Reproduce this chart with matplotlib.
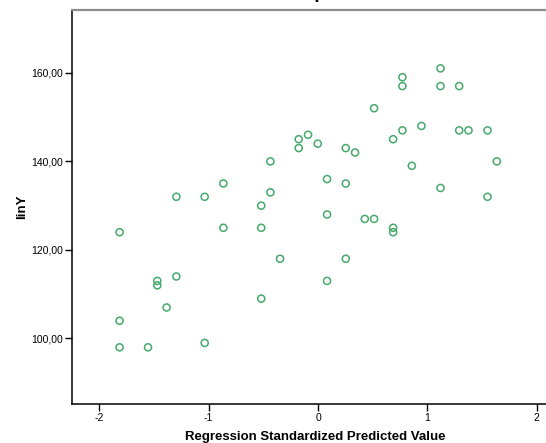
import numpy as np
import matplotlib
matplotlib.use('Agg')
import matplotlib.pyplot as plt

plt.rcParams['font.family'] = ['Liberation Sans', 'DejaVu Sans']

# standardized predicted value vs observed linY
pred = [-1.815, -1.296, -1.037, -0.866, -0.866, -0.52, -0.52, -0.436, -0.436,
        -0.177, -0.177, -0.092, -0.003, 0.082, 0.082, 1.119, 0.771, 0.771,
        1.119, 1.29, 0.512, 0.771, 0.945, 1.29, 1.375, 1.549, 0.686, 0.253,
        0.338, 1.634, 0.857, 0.253, 1.119, 1.549, 0.427, 0.512, 0.686, 0.686,
        -0.348, 0.082, -1.47, -1.47, -1.296, -0.52, -1.385, -1.815, -1.815,
        -1.555, -1.037, 0.253]
lin_y = [124, 132, 132, 135, 125, 125, 130, 133, 140,
         143, 145, 146, 144, 136, 128, 161, 159, 157,
         157, 157, 152, 147, 148, 147, 147, 147, 145, 143,
         142, 140, 139, 135, 134, 132, 127, 127, 125, 124,
         118, 113, 113, 112, 114, 109, 107, 104, 98,
         98, 99, 118]

x_ticks = [-2, -1, 0, 1, 2]
y_ticks = [100, 120, 140, 160]

fig = plt.figure(figsize=(5.46, 4.43), dpi=100)
ax = fig.add_axes([72 / 546, 1 - 404 / 443, 490 / 546, (404 - 9.5) / 443])

ax.scatter(pred, lin_y, s=26, facecolors='none', edgecolors='#46a96c', linewidths=1.1)

ax.set_xlim(-2.25, 2.23)
ax.set_ylim(85.2, 174.3)
ax.set_xticks(x_ticks)
ax.set_xticklabels([str(t) for t in x_ticks])
ax.set_yticks(y_ticks)
ax.set_yticklabels([f'{t:.2f}'.replace('.', ',') for t in y_ticks])
ax.tick_params(direction='out', length=5, width=1, labelsize=7.5, colors='black', pad=1.5)

for side in ['left', 'bottom']:
    ax.spines[side].set_color('black')
    ax.spines[side].set_linewidth(1.1)
ax.spines['top'].set_color('#8c8c8c')
ax.spines['top'].set_linewidth(1.6)
ax.spines['right'].set_color('#8c8c8c')

ax.set_xlabel('Regression Standardized Predicted Value', fontsize=9.5, fontweight='bold')
ax.xaxis.set_label_coords(0.497, -0.068)
ax.set_ylabel('linY', fontsize=9.5, fontweight='bold', va='center')
ax.yaxis.set_label_coords(-0.102, 0.5)

# chart title sits mostly above the visible area
fig.text(299 / 546, 1 + 2 / 443, 'Scatterplot', ha='center', va='baseline',
         fontsize=14, fontweight='bold')

fig.savefig('out.png', dpi=100)
